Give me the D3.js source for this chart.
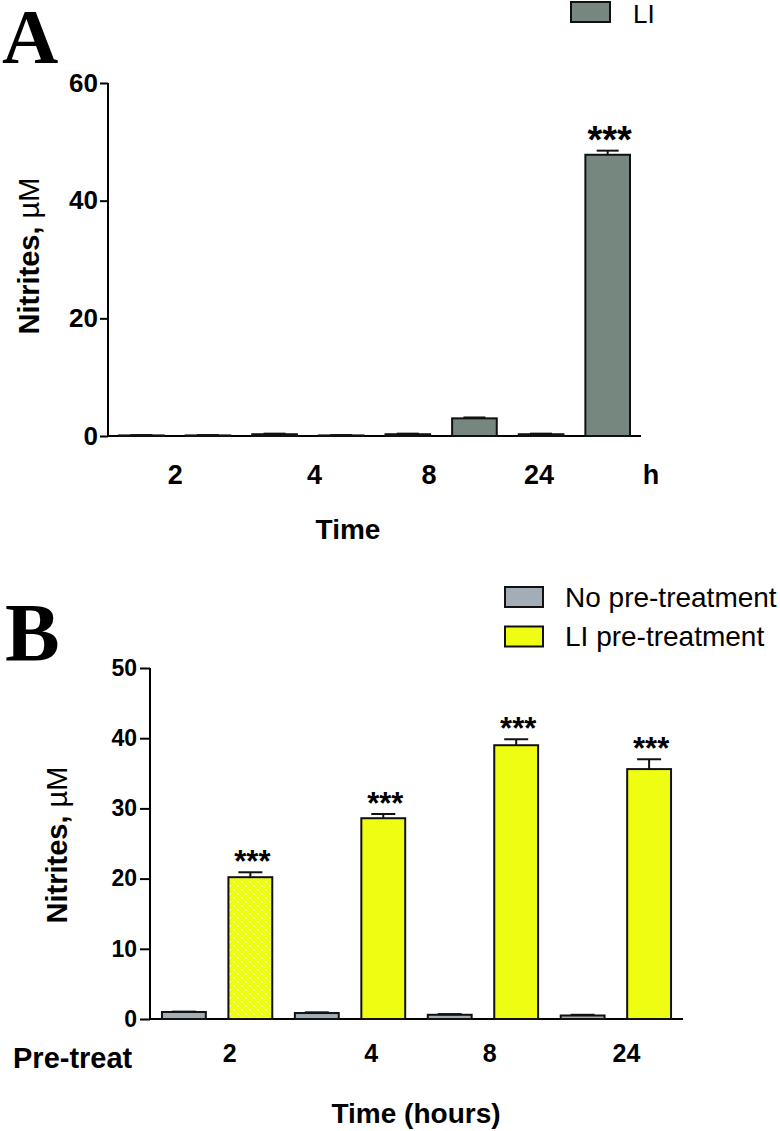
<!DOCTYPE html>
<html>
<head>
<meta charset="utf-8">
<script src="https://cdn.jsdelivr.net/npm/d3@7/dist/d3.min.js"></script>
<style>
  html, body { margin: 0; padding: 0; background: #fff; }
  svg { display: block; }
  text { fill: #000; }
</style>
</head>
<body>
<svg id="chart" width="780" height="1131" font-family="'Liberation Sans', Arial, sans-serif"></svg>
<script>
// ---------- Panel A data ----------
const aCats = ["2-a", "2-b", "4-a", "4-b", "8-a", "8-b", "24-a", "24-b"];
const aValues = [0.1, 0.1, 0.3, 0.1, 0.3, 3.0, 0.3, 47.8];
const aErrors = [0.05, 0.05, 0.1, 0.05, 0.1, 0.15, 0.1, 0.7];
const aSig = ["", "", "", "", "", "", "", "***"];
const aTickLabels = ["2", "4", "8", "24", "h"];
const aTickAt = [0.51, 2.6, 4.32, 5.97, 7.65];   // in bar-index units
const aYTicks = [0, 20, 40, 60];
const aLegend = ["LI"];

// ---------- Panel B data ----------
const bTimes = ["2", "4", "8", "24"];
const bNoPre = [1.0, 0.85, 0.6, 0.5];
const bNoPreErr = [0.05, 0.1, 0.1, 0.1];
const bLIPre = [20.2, 28.6, 39.0, 35.6];
const bLIPreErr = [0.7, 0.6, 0.85, 1.4];
const bSig = ["***", "***", "***", "***"];
const bTickAt = [0.69, 2.82, 4.6, 6.66];         // in bar-index units
const bYTicks = [0, 10, 20, 30, 40, 50];
const bLegend = ["No pre-treatment", "LI pre-treatment"];

const colA = "#76877f";
const colGray = "#a3adb5";
const colYellow = "#effd12";
const SANS = "'Liberation Sans', Arial, sans-serif";
const SERIF = "'Liberation Serif', 'Times New Roman', serif";

const svg = d3.select("#chart");

// pattern for dotted yellow bar
const defs = svg.append("defs");
const pat = defs.append("pattern").attr("id", "dots").attr("patternUnits", "userSpaceOnUse")
  .attr("width", 8).attr("height", 8);
pat.append("rect").attr("width", 8).attr("height", 8).attr("fill", colYellow);
pat.append("circle").attr("cx", 2).attr("cy", 2).attr("r", 0.9).attr("fill", "#fbffd0");
pat.append("circle").attr("cx", 6).attr("cy", 6).attr("r", 0.9).attr("fill", "#fbffd0");

function drawPanel(opt) {
  const g = svg.append("g");
  const x = d3.scaleBand().domain(d3.range(opt.values.length))
    .range(opt.xRange).paddingInner(opt.pi).paddingOuter(opt.po);
  const y = d3.scaleLinear().domain(opt.yDomain).range(opt.yRange);
  const bw = x.bandwidth();
  const xc = d3.scaleLinear().domain([0, opt.values.length - 1])
    .range([x(0) + bw / 2, x(opt.values.length - 1) + bw / 2]);

  // y axis
  const yAxis = d3.axisLeft(y).tickValues(opt.yTicks).tickSize(opt.tickLen)
    .tickPadding(opt.tickPad).tickSizeOuter(0);
  const ya = g.append("g").attr("transform", `translate(${opt.xRange[0]},0)`).call(yAxis);
  ya.select(".domain").attr("stroke-width", 2).attr("d", `M0,${y(opt.yDomain[0])}V${y(opt.yDomain[1])}`);
  ya.selectAll(".tick line").attr("stroke-width", 2);
  ya.selectAll(".tick text").style("font-size", opt.tickFont + "px").style("font-weight", "bold")
    .style("font-family", SANS).attr("fill", "#000");

  // x axis line
  g.append("line").attr("x1", opt.xRange[0]).attr("x2", opt.xRange[1])
    .attr("y1", y(0)).attr("y2", y(0)).attr("stroke", "#000").attr("stroke-width", 2);

  // bars
  g.selectAll("rect.bar").data(opt.values).join("rect").attr("class", "bar")
    .attr("x", (d, i) => x(i)).attr("width", bw)
    .attr("y", d => y(d)).attr("height", d => y(0) - y(d))
    .attr("fill", (d, i) => opt.fill(i)).attr("stroke", "#111").attr("stroke-width", 2);

  // error bars
  const eg = g.selectAll("g.err").data(opt.values).join("g").attr("class", "err");
  eg.append("line").attr("x1", (d, i) => x(i) + bw / 2).attr("x2", (d, i) => x(i) + bw / 2)
    .attr("y1", d => y(d)).attr("y2", (d, i) => y(d + opt.errors[i]))
    .attr("stroke", "#111").attr("stroke-width", 2);
  eg.append("line").attr("x1", (d, i) => x(i) + bw / 2 - opt.cap / 2).attr("x2", (d, i) => x(i) + bw / 2 + opt.cap / 2)
    .attr("y1", (d, i) => y(d + opt.errors[i])).attr("y2", (d, i) => y(d + opt.errors[i]))
    .attr("stroke", "#111").attr("stroke-width", 2);

  // significance
  g.selectAll("text.sig").data(opt.values).join("text").attr("class", "sig")
    .attr("x", (d, i) => x(i) + bw / 2 + 2)
    .attr("y", (d, i) => y(d + opt.errors[i]) + opt.sigDy)
    .attr("text-anchor", "middle").style("font-size", opt.sigFont + "px").style("font-weight", "bold")
    .text((d, i) => opt.sig[i]);

  // x tick labels
  g.selectAll("text.xl").data(opt.xLabels).join("text").attr("class", "xl")
    .attr("x", (d, i) => xc(opt.xAt[i])).attr("y", opt.xLabelY)
    .attr("text-anchor", "middle").style("font-size", opt.xLabelFont + "px").style("font-weight", "bold")
    .text(d => d);

  return { x, y };
}

// ---------- Panel A ----------
drawPanel({
  values: aValues, errors: aErrors, sig: aSig,
  xRange: [108, 641], pi: 0.33, po: 0.165,
  yDomain: [0, 60], yRange: [436, 83], yTicks: aYTicks,
  tickLen: 8, tickPad: 2, tickFont: 26,
  fill: () => colA, cap: 22, sigDy: 2, sigFont: 38,
  xLabels: aTickLabels, xAt: aTickAt, xLabelY: 484, xLabelFont: 27
});

// ---------- Panel B ----------
const bValues = [], bErrors = [], bSigAll = [];
bTimes.forEach((t, i) => {
  bValues.push(bNoPre[i], bLIPre[i]);
  bErrors.push(bNoPreErr[i], bLIPreErr[i]);
  bSigAll.push("", bSig[i]);
});
drawPanel({
  values: bValues, errors: bErrors, sig: bSigAll,
  xRange: [150, 683], pi: 0.34, po: 0.18,
  yDomain: [0, 50], yRange: [1019, 668], yTicks: bYTicks,
  tickLen: 10, tickPad: 3, tickFont: 23,
  fill: i => (i % 2 === 0 ? colGray : (i === 1 ? "url(#dots)" : colYellow)),
  cap: 24, sigDy: 0, sigFont: 31,
  xLabels: bTimes, xAt: bTickAt, xLabelY: 1062, xLabelFont: 25
});

// ---------- Panel letters ----------
svg.append("text").attr("x", 2).attr("y", 63).style("font-family", SERIF)
  .style("font-weight", "bold").style("font-size", "78px").text("A");
svg.append("text").attr("x", 5).attr("y", 660).style("font-family", SERIF)
  .style("font-weight", "bold").style("font-size", "82px").text("B");

// axis titles
function yTitle(cx, cy) {
  const t = svg.append("text").attr("transform", `translate(${cx},${cy}) rotate(-90)`)
    .attr("text-anchor", "middle").style("font-size", "29px").style("font-weight", "bold");
  t.append("tspan").text("Nitrites, ");
  t.append("tspan").style("font-weight", "normal").text("\u00b5M");
}
yTitle(39, 256);
yTitle(67, 845);

svg.append("text").attr("x", 348).attr("y", 539).attr("text-anchor", "middle")
  .style("font-size", "28px").style("font-weight", "bold").text("Time");
svg.append("text").attr("x", 416).attr("y", 1123).attr("text-anchor", "middle")
  .style("font-size", "28px").style("font-weight", "bold").text("Time (hours)");
svg.append("text").attr("x", 13).attr("y", 1068)
  .style("font-size", "29px").style("font-weight", "bold").text("Pre-treat");

// ---------- Legends ----------
const la = svg.append("g");
la.selectAll("rect").data(aLegend).join("rect")
  .attr("x", 571).attr("y", 2).attr("width", 39).attr("height", 20)
  .attr("fill", colA).attr("stroke", "#111").attr("stroke-width", 2);
la.selectAll("text").data(aLegend).join("text")
  .attr("x", 633).attr("y", 23).style("font-size", "26px").text(d => d);

const lb = svg.append("g");
const lbFill = [colGray, colYellow];
lb.selectAll("rect").data(bLegend).join("rect")
  .attr("x", 505).attr("y", (d, i) => 587 + i * 39.5).attr("width", 38).attr("height", 20)
  .attr("fill", (d, i) => lbFill[i]).attr("stroke", "#111").attr("stroke-width", 2);
lb.selectAll("text").data(bLegend).join("text")
  .attr("x", 565).attr("y", (d, i) => 607 + i * 39).style("font-size", "28px").text(d => d);
</script>
</body>
</html>
